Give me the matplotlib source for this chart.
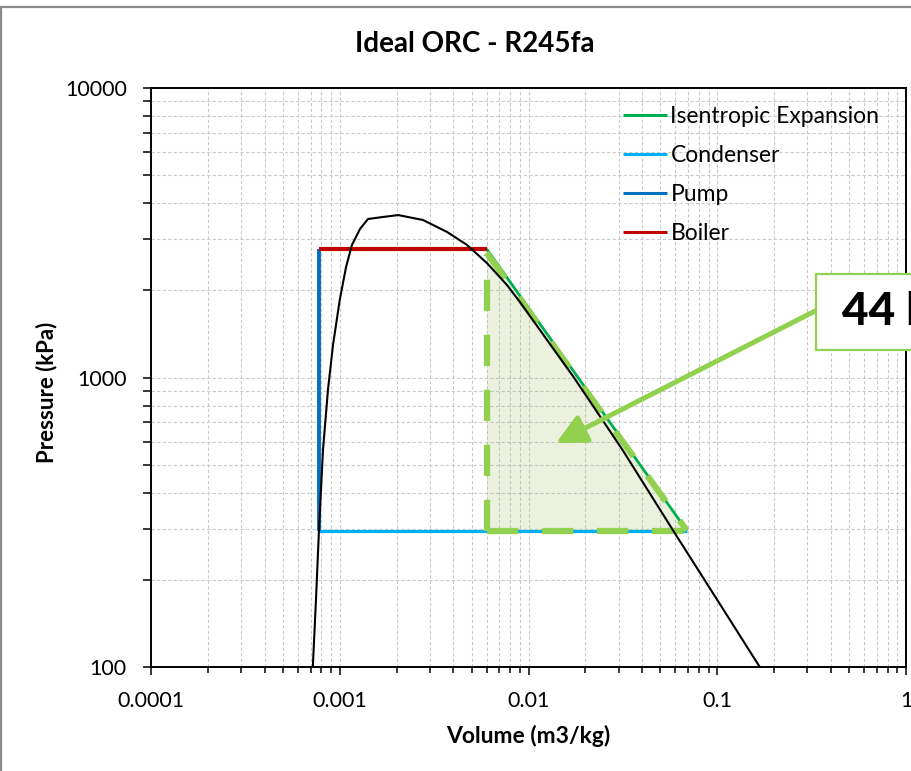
import matplotlib
matplotlib.use("Agg")
import matplotlib.pyplot as plt
from matplotlib.patches import Rectangle
from matplotlib.ticker import LogLocator, NullFormatter, FuncFormatter

plt.rcParams['font.family'] = ['Lato', 'DejaVu Sans']

# saturation dome of R245fa (specific volume m3/kg, pressure kPa)
sat_v = [0.00072, 0.000748, 0.000776, 0.000815, 0.000866, 0.000921, 0.001, 0.00108,
         0.00116, 0.00128, 0.00141, 0.00169, 0.00204, 0.00276, 0.0037, 0.00472,
         0.00602, 0.00769, 0.0090, 0.0174, 0.0315, 0.0584, 0.0975, 0.168]
sat_p = [100, 170, 296, 562, 906, 1295, 1854, 2408,
         2869, 3258, 3527, 3584, 3640, 3500, 3183, 2871,
         2485, 2087, 1824, 1000, 562, 296, 175, 100]

# cycle state points
v_liq = 0.000776
v_vap = 0.0060
v_exh = 0.069
p_high = 2780
p_low = 296

expansion_v = [v_vap, v_exh]
expansion_p = [p_high, p_low]
condenser_v = [v_exh, v_liq]
condenser_p = [p_low, p_low]
pump_v = [v_liq, v_liq]
pump_p = [p_low, p_high]
boiler_v = [v_liq, v_vap]
boiler_p = [p_high, p_high]

work_label = "44 kJ/kg"
arrow_tip = (0.0140, 594)
arrow_tail = (0.330, 1697)

W, H = 912, 771
fig = plt.figure(figsize=(W / 100, H / 100), dpi=100)
ax = fig.add_axes([151 / W, 1 - 667 / H, 755 / W, 579 / H])

def fpos(x, y):
    return (x / W, 1 - y / H)

ax.set_xscale('log')
ax.set_yscale('log')
ax.set_xlim(1e-4, 1)
ax.set_ylim(100, 10000)
ax.set_axisbelow(True)

ax.xaxis.set_major_locator(LogLocator(base=10, numticks=10))
ax.xaxis.set_minor_locator(LogLocator(base=10, subs=range(2, 10), numticks=20))
ax.yaxis.set_major_locator(LogLocator(base=10, numticks=10))
ax.yaxis.set_minor_locator(LogLocator(base=10, subs=range(2, 10), numticks=20))
fmt = FuncFormatter(lambda v, pos: f"{v:g}")
ax.xaxis.set_major_formatter(fmt)
ax.yaxis.set_major_formatter(fmt)
ax.xaxis.set_minor_formatter(NullFormatter())
ax.yaxis.set_minor_formatter(NullFormatter())

ax.grid(True, which='both', color='#c9c9c9', linestyle=(0, (3, 2)), linewidth=0.8)
for s in ax.spines.values():
    s.set_linewidth(1.4)
    s.set_color('black')
ax.tick_params(axis='both', which='major', length=6, width=1.1, labelsize=15.5, colors='black')
ax.tick_params(axis='both', which='minor', length=4, width=1.1)
ax.tick_params(axis='y', which='both', length=6)
ax.tick_params(axis='x', which='major', pad=11)
ax.tick_params(axis='y', which='major', pad=11.5)

# cycle legs
ax.plot(expansion_v, expansion_p, color='#00b050', lw=2.0, label='Isentropic Expansion', zorder=3,
        solid_capstyle='butt')
ax.plot(condenser_v, condenser_p, color='#00b0f0', lw=2.3, label='Condenser', zorder=3,
        solid_capstyle='butt')
ax.plot(pump_v, pump_p, color='#0070c0', lw=2.8, label='Pump', zorder=3, solid_capstyle='butt')
ax.plot(boiler_v, boiler_p, color='#c00000', lw=3.0, label='Boiler', zorder=3, solid_capstyle='butt')

# shaded expansion work triangle
ax.fill([v_vap, v_vap, v_exh], [p_high, p_low, p_low], color='#9bbb59', alpha=0.2, lw=0, zorder=2.5)
dash_kw = dict(color='#92d050', lw=4.5, linestyle=(0, (5, 3.8)), zorder=3.5,
               dash_capstyle='butt', solid_joinstyle='miter')
ax.plot([v_vap, v_vap], [p_low, p_high * 0.95], **dash_kw)
ax.plot([v_vap, v_exh], [p_low, p_low], **dash_kw)
ax.plot([v_vap, v_exh], [p_high * 0.97, p_low], **dash_kw)

# saturation curve
ax.plot(sat_v, sat_p, color='black', lw=1.5, zorder=4)

leg = ax.legend(loc='upper left', bbox_to_anchor=fpos(623, 106), bbox_transform=fig.transFigure,
                frameon=False, fontsize=16.5, handlelength=1.9, handletextpad=0.17,
                labelspacing=0.79, borderpad=0, borderaxespad=0)
for line in leg.get_lines():
    line.set_linewidth(2.2)

# arrow and value box
ax.annotate('', xy=arrow_tip, xytext=arrow_tail,
            arrowprops=dict(arrowstyle='-|>,head_length=0.9,head_width=0.45', mutation_scale=20,
                            color='#92d050', lw=3.6, shrinkA=0, shrinkB=0), zorder=6,
            annotation_clip=False)
box = Rectangle(fpos(816, 350), 200 / W, 76 / H, transform=fig.transFigure,
                facecolor='white', edgecolor='#92d050', lw=1.6, zorder=5)
fig.patches.append(box)
fig.text(*fpos(842, 312), work_label, fontsize=33, fontweight='black', ha='left', va='center',
         color='black', zorder=6)

# titles
fig.text(*fpos(474.5, 52), 'Ideal ORC - R245fa', fontsize=20, fontweight='bold',
         ha='center', va='baseline')
fig.text(*fpos(528, 743), 'Volume (m3/kg)', fontsize=16.5, fontweight='bold',
         ha='center', va='baseline')
fig.text(*fpos(53, 392), 'Pressure (kPa)', fontsize=16, fontweight='bold',
         ha='center', va='baseline', rotation=90, rotation_mode='anchor')

# outer chart frame
frame = Rectangle(fpos(1, 800), 1000 / W, 793 / H, transform=fig.transFigure,
                  facecolor='none', edgecolor='#8a8a8a', lw=1.6, zorder=0)
fig.patches.append(frame)

fig.savefig('out.png', dpi=100)
